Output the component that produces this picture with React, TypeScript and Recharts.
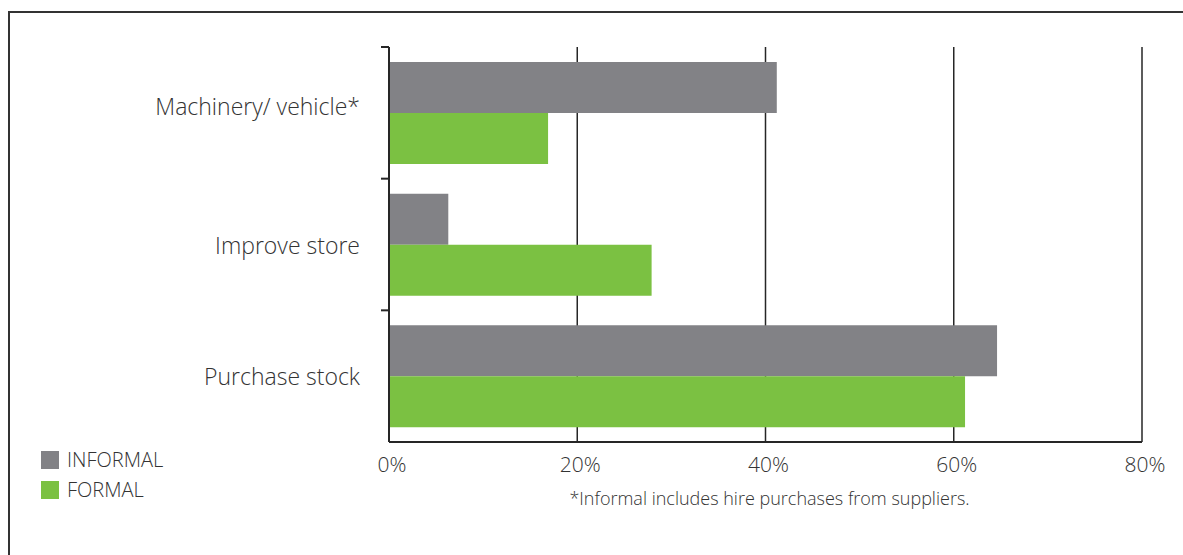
import React from 'react';
import { BarChart, Bar, XAxis, YAxis, CartesianGrid, Label } from 'recharts';

const categories = ['Machinery/ vehicle*', 'Improve store', 'Purchase stock'];
const informal = [41.2, 6.3, 64.6];
const formal = [16.9, 27.9, 61.2];
const xTicks = [0, 20, 40, 60, 80];
const seriesNames = ['INFORMAL', 'FORMAL'];
const footnote = '*Informal includes hire purchases from suppliers.';

const GRAY = '#828286';
const GREEN = '#7bc142';
const INK = '#333333';
const LINE = '#262626';
const FONT = '"Open Sans", "DejaVu Sans", sans-serif';

const W = 1183;
const H = 555;
const MARGIN = { top: 47, right: 41, bottom: 83, left: 0 };
const Y_WIDTH = 389;
const X_HEIGHT = 30;
const PLOT_H = H - MARGIN.top - MARGIN.bottom - X_HEIGHT;
const BAND = PLOT_H / categories.length;
const Y_TICK_SIZE = 8;
const Y_TICK_MARGIN = 21;

const data = categories.map((category, i) => ({
  category,
  informal: informal[i],
  formal: formal[i],
}));

function CategoryTick(props: any) {
  const { x, y, payload } = props;
  const axisX = x + Y_TICK_MARGIN + Y_TICK_SIZE;
  const edge = y - BAND / 2;
  // the first label sits a little above its bars in the original
  const nudge = payload.index === 0 ? -7 : 0;
  return (
    <g>
      <line x1={axisX - Y_TICK_SIZE} x2={axisX} y1={edge} y2={edge} stroke={LINE} strokeWidth={2} />
      <text
        x={x}
        y={y + nudge}
        textAnchor="end"
        dominantBaseline="central"
        fill={INK}
        fontSize={23}
        fontWeight={300}
        fontFamily={FONT}
      >
        {payload.value}
      </text>
    </g>
  );
}

export default function App() {
  const colors = [GRAY, GREEN];
  return (
    <div style={{ position: 'fixed', left: 0, top: 0, width: W, height: H, overflow: 'hidden', fontFamily: FONT, background: '#fff' }}>
      <div
        style={{
          position: 'absolute',
          left: 8,
          top: 11,
          width: 1400,
          height: 800,
          borderTop: `2px solid ${INK}`,
          borderLeft: `2px solid ${INK}`,
        }}
      />
      <BarChart
        width={W}
        height={H}
        data={data}
        layout="vertical"
        margin={MARGIN}
        barCategoryGap={15}
        barGap={0}
        style={{ position: 'absolute', left: 0, top: 0 }}
      >
        <CartesianGrid horizontal={false} stroke={LINE} strokeWidth={1.5} />
        <XAxis
          type="number"
          domain={[0, 80]}
          ticks={xTicks}
          tickFormatter={(v) => `${v}%`}
          height={X_HEIGHT}
          tickLine={false}
          tickSize={0}
          tickMargin={15}
          axisLine={{ stroke: LINE, strokeWidth: 2 }}
          tick={{ fill: INK, fontSize: 21, fontWeight: 300, fontFamily: FONT, dx: 3 }}
        >
          <Label
            value={footnote}
            position="bottom"
            offset={20}
            dx={4}
            style={{ fill: INK, fontSize: 18, fontWeight: 300, fontFamily: FONT }}
          />
        </XAxis>
        <YAxis
          type="category"
          dataKey="category"
          width={Y_WIDTH}
          tickLine={false}
          tickSize={Y_TICK_SIZE}
          tickMargin={Y_TICK_MARGIN}
          axisLine={{ stroke: LINE, strokeWidth: 2 }}
          tick={<CategoryTick />}
        />
        <Bar dataKey="informal" name={seriesNames[0]} fill={GRAY} isAnimationActive={false} />
        <Bar dataKey="formal" name={seriesNames[1]} fill={GREEN} isAnimationActive={false} />
      </BarChart>
      <div style={{ position: 'absolute', left: 41, top: 445 }}>
        {seriesNames.map((name, i) => (
          <div key={name} style={{ display: 'flex', alignItems: 'center', height: 30 }}>
            <span style={{ width: 18, height: 18, background: colors[i], marginRight: 8, display: 'inline-block' }} />
            <span style={{ color: INK, fontSize: 20, fontWeight: 300, lineHeight: '18px' }}>{name}</span>
          </div>
        ))}
      </div>
    </div>
  );
}
